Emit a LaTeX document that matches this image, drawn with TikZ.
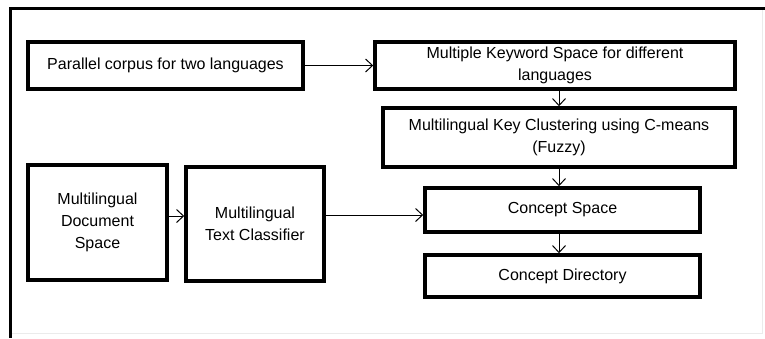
\documentclass[tikz,border=0pt]{standalone}
\usepackage{fontspec}
\setmainfont{Liberation Sans}
\usetikzlibrary{arrows.meta}

\tikzset{
  blk/.style={draw=black, line width=3.5pt, align=center, inner sep=0pt,
              font=\fontsize{16}{22}\selectfont},
  flow/.style={-{Straight Barb[length=7pt,width=13pt]}, line width=1pt}
}

\begin{document}
\begin{tikzpicture}[x=1pt,y=-1pt]
  \useasboundingbox (0,0) rectangle (765,338);
  % frame
  \draw[black!8, line width=1pt] (762,8)--(762,333)--(10,333);
  \draw[black, line width=3pt] (765,8)--(10,8)--(10,338);

  \node[blk, minimum width=275, minimum height=47] (corpus) at (165.5,65.5) {Parallel corpus for two languages};
  \node[blk, minimum width=360, minimum height=47] (kwspace) at (555,65.5) {Multiple Keyword Space for different\\languages};
  \node[blk, minimum width=352, minimum height=59] (cmeans) at (559,137.5) {Multilingual Key Clustering using C-means\\(Fuzzy)};
  \node[blk, minimum width=275, minimum height=44] (cspace) at (562.5,210) {Concept Space};
  \node[blk, minimum width=275, minimum height=42] (cdir) at (562.5,276) {Concept Directory};
  \node[blk, minimum width=139, minimum height=115] (docspace) at (97.5,222.5) {Multilingual\\Document\\Space};
  \node[blk, minimum width=138, minimum height=114] (classif) at (255,224) {Multilingual\\Text Classifier};

  \draw[flow] (corpus) -- (kwspace);
  \draw[flow] (cmeans.north |- kwspace.south) -- (cmeans.north);
  \draw[flow] (cmeans.south) -- (cmeans.south |- cspace.north);
  \draw[flow] (cmeans.south |- cspace.south) -- (cmeans.south |- cdir.north);
  \draw[flow] (docspace.east |- 0,216) -- (classif.west |- 0,216);
  \draw[flow] (classif.east |- 0,215) -- (cspace.west |- 0,215);
\end{tikzpicture}
\end{document}
